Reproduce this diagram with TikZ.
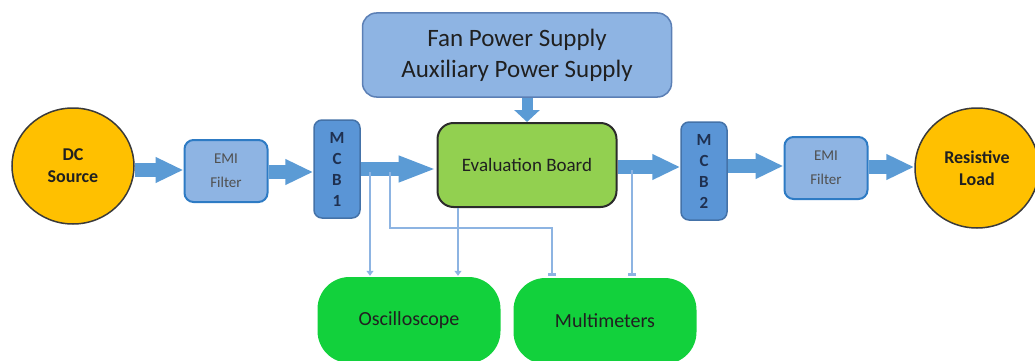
\documentclass[tikz,border=0pt]{standalone}
\usepackage{fontspec}
\setmainfont{Carlito}
\usetikzlibrary{arrows.meta, shapes.geometric}

\definecolor{amber}{HTML}{FFC000}
\definecolor{circedge}{HTML}{3A3A3A}
\definecolor{filterfill}{HTML}{8EB4E3}
\definecolor{filteredge}{HTML}{2E7BC4}
\definecolor{breakerfill}{HTML}{5A95D6}
\definecolor{breakeredge}{HTML}{4472A8}
\definecolor{supplyedge}{HTML}{5B7FB5}
\definecolor{boardgreen}{HTML}{92D050}
\definecolor{boardedge}{HTML}{2B2B2B}
\definecolor{metergreen}{HTML}{12D13C}
\definecolor{flowblue}{HTML}{5B9BD5}
\definecolor{probeblue}{HTML}{8DB4E2}
\definecolor{darktext}{HTML}{202020}
\definecolor{graytext}{HTML}{505050}
\definecolor{navytext}{HTML}{1F3050}

\tikzset{
	roundnode/.style = {ellipse, draw = circedge, line width = 1.5pt, fill = amber, inner sep = 0pt,
		font = \fontsize{18}{22}\selectfont\bfseries, text = darktext, align = center},
	filterbox/.style = {rectangle, rounded corners = 9pt, draw = filteredge, line width = 2pt, fill = filterfill,
		minimum width = 83pt, minimum height = 62pt, font = \fontsize{15}{24}\selectfont, text = graytext, align = center},
	breakerbox/.style = {rectangle, rounded corners = 8pt, draw = breakeredge, line width = 1.5pt, fill = breakerfill,
		minimum width = 46pt, minimum height = 98pt, font = \fontsize{17}{21}\selectfont\bfseries, text = navytext, align = center},
	supplybox/.style = {rectangle, rounded corners = 14pt, draw = supplyedge, line width = 1.5pt, fill = filterfill,
		minimum width = 309pt, minimum height = 84pt, font = \fontsize{25}{31}\selectfont, text = darktext, align = center},
	boardbox/.style = {rectangle, rounded corners = 16pt, draw = boardedge, line width = 2pt, fill = boardgreen,
		minimum width = 179pt, minimum height = 84pt, font = \fontsize{19}{22}\selectfont, text = darktext},
	meterbox/.style = {rectangle, rounded corners = 32pt, fill = metergreen,
		minimum width = 183pt, minimum height = 86pt, font = \fontsize{20}{24}\selectfont, text = darktext},
	flowarrow/.style = {draw = flowblue, line width = 14pt, -{Triangle[length = 28pt, width = 24pt]}},
	probe/.style = {draw = probeblue, line width = 1.3pt},
	probetip/.style = {probe, -{Triangle[length = 5pt, width = 7pt]}},
	probebar/.style = {probe, -{Bar[width = 8pt, line width = 3pt]}}
}

\begin{document}
\begin{tikzpicture}[x = 1pt, y = -1pt, > = Latex]

	\useasboundingbox (0, 0) rectangle (1035, 361);

	% Blocks of the power path

	\node [roundnode, minimum width = 122pt, minimum height = 116pt] (dc) at (73, 166) {DC\\Source};
	\node [filterbox] (emi1) at (226, 171) {EMI\\Filter};
	\node [breakerbox] (mcb1) at (337, 169) {M\\C\\B\\1};
	\node [boardbox] (board) at (527, 165) {Evaluation Board};
	\node [breakerbox] (mcb2) at (704, 171) {M\\C\\B\\2};
	\node [filterbox] (emi2) at (826, 168) {EMI\\Filter};
	\node [roundnode, minimum width = 124pt, minimum height = 120pt] (load) at (977, 168) {Resistive\\Load};

	\node [supplybox] (supply) at (517, 55) {Fan Power Supply\\Auxiliary Power Supply};

	% Measuring instruments

	\node [meterbox] (scope) at (409, 320) {Oscilloscope};
	\node [meterbox] (meters) at (605, 321) {Multimeters};

	% Power flow

	\draw [flowarrow] (dc.east |- 0, 170) -- (emi1.west |- 0, 170);
	\draw [flowarrow] (emi1.east |- 0, 172) -- (mcb1.west |- 0, 172);
	\draw [flowarrow, -{Triangle[length = 38pt, width = 24pt]}] (mcb1.east |- 0, 169) -- (board.west |- 0, 169);
	\draw [flowarrow] (board.east |- 0, 167) -- (mcb2.west |- 0, 167);
	\draw [flowarrow] (mcb2.east |- 0, 166) -- (emi2.west |- 0, 166);
	\draw [flowarrow] (emi2.east |- 0, 167) -- (load.west |- 0, 167);
	\draw [flowarrow, line width = 11pt, -{Triangle[length = 12pt, width = 25pt]}] (supply.south -| 527, 0) -- (board.north -| 527, 0);

	% Measurement taps

	\coordinate (tapA) at (370, 172);
	\coordinate (tapB) at (390, 172);
	\coordinate (tapC) at (632, 170);

	\draw [probetip] (tapA) -- ([yshift = 1pt] scope.north -| tapA);
	\draw [probetip] ([xshift = -69pt] board.south) -- ([xshift = -69pt, yshift = 1pt] board.south |- scope.north);
	\draw [probebar] (tapB) |- (552, 228) -- ([yshift = 2pt] meters.north -| 552, 0);
	\draw [probebar] (tapC) -- ([yshift = 2pt] meters.north -| tapC);

\end{tikzpicture}
\end{document}
